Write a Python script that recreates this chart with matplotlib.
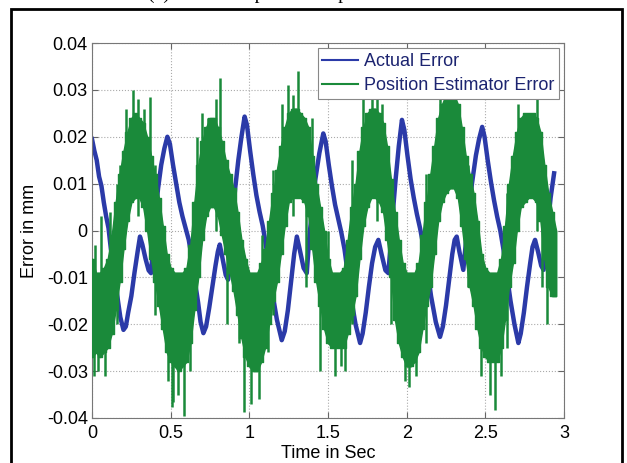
import numpy as np
import matplotlib.pyplot as plt
from matplotlib.patches import Rectangle

plt.rcParams['font.family'] = ['Liberation Sans', 'DejaVu Sans']

time_ticks = [0, 0.5, 1, 1.5, 2, 2.5, 3]
time_tick_labels = ['0', '0.5', '1', '1.5', '2', '2.5', '3']
err_ticks = [-0.04, -0.03, -0.02, -0.01, 0, 0.01, 0.02, 0.03, 0.04]
err_tick_labels = ['-0.04', '-0.03', '-0.02', '-0.01', '0',
                   '0.01', '0.02', '0.03', '0.04']

# actual error (time in s, error in mm)
actual_t = [
    0.000, 0.015, 0.030, 0.045, 0.060, 0.075, 0.090, 0.105, 0.120, 0.135,
    0.150, 0.165, 0.180, 0.200, 0.215, 0.230, 0.250, 0.270, 0.290, 0.305,
    0.320, 0.340, 0.360, 0.375, 0.390, 0.405, 0.420, 0.440, 0.460, 0.479,
    0.495, 0.515, 0.535, 0.555, 0.575, 0.595, 0.615, 0.635, 0.655, 0.675,
    0.690, 0.708, 0.725, 0.745, 0.765, 0.785, 0.800, 0.812, 0.830, 0.850,
    0.865, 0.880, 0.895, 0.910, 0.930, 0.950, 0.970, 0.985, 1.005, 1.025,
    1.045, 1.065, 1.085, 1.105, 1.125, 1.150, 1.175, 1.206, 1.225, 1.245,
    1.265, 1.285, 1.302, 1.320, 1.345, 1.365, 1.380, 1.400, 1.420, 1.445,
    1.470, 1.485, 1.505, 1.525, 1.545, 1.565, 1.585, 1.605, 1.625, 1.650,
    1.675, 1.704, 1.720, 1.740, 1.760, 1.780, 1.800, 1.820, 1.840, 1.865,
    1.884, 1.900, 1.915, 1.930, 1.950, 1.970, 1.985, 2.005, 2.025, 2.045,
    2.065, 2.085, 2.105, 2.130, 2.155, 2.185, 2.212, 2.230, 2.250, 2.270,
    2.290, 2.305, 2.318, 2.335, 2.360, 2.375, 2.395, 2.415, 2.440, 2.460,
    2.480, 2.495, 2.515, 2.535, 2.555, 2.575, 2.595, 2.615, 2.635, 2.660,
    2.685, 2.710, 2.725, 2.745, 2.765, 2.785, 2.800, 2.816, 2.835, 2.855,
    2.870, 2.885, 2.900, 2.915, 2.937]
actual_err = [
    0.0195, 0.0170, 0.0150, 0.0115, 0.0095, 0.0060, 0.0030, 0.0005, -0.0040, -0.0070,
    -0.0110, -0.0150, -0.0185, -0.0212, -0.0205, -0.0175, -0.0140, -0.0090, -0.0045, -0.0013,
    -0.0030, -0.0060, -0.0085, -0.0091, -0.0030, 0.0040, 0.0090, 0.0140, 0.0175, 0.0200,
    0.0185, 0.0140, 0.0100, 0.0060, 0.0030, 0.0005, -0.0020, -0.0060, -0.0110, -0.0155,
    -0.0195, -0.0219, -0.0205, -0.0165, -0.0120, -0.0075, -0.0045, -0.0030, -0.0060, -0.0095,
    -0.0105, -0.0040, 0.0030, 0.0090, 0.0150, 0.0200, 0.0243, 0.0225, 0.0170, 0.0120,
    0.0075, 0.0040, 0.0010, -0.0030, -0.0080, -0.0140, -0.0190, -0.0234, -0.0215, -0.0170,
    -0.0110, -0.0050, -0.0013, -0.0040, -0.0080, -0.0091, -0.0020, 0.0050, 0.0110, 0.0165,
    0.0207, 0.0190, 0.0140, 0.0095, 0.0055, 0.0025, -0.0005, -0.0040, -0.0090, -0.0150,
    -0.0200, -0.0240, -0.0220, -0.0175, -0.0120, -0.0070, -0.0035, -0.0020, -0.0050, -0.0085,
    -0.0091, -0.0020, 0.0050, 0.0110, 0.0180, 0.0236, 0.0215, 0.0160, 0.0110, 0.0070,
    0.0035, 0.0005, -0.0030, -0.0080, -0.0140, -0.0195, -0.0227, -0.0205, -0.0160, -0.0105,
    -0.0050, -0.0020, -0.0013, -0.0045, -0.0084, -0.0030, 0.0040, 0.0100, 0.0160, 0.0195,
    0.0221, 0.0200, 0.0150, 0.0105, 0.0065, 0.0030, 0.0000, -0.0040, -0.0090, -0.0150,
    -0.0200, -0.0240, -0.0220, -0.0175, -0.0120, -0.0070, -0.0035, -0.0020, -0.0045, -0.0075,
    -0.0084, -0.0030, 0.0020, 0.0070, 0.0122]

# position estimator error: top and bottom of the noise band every 0.025 s
est_t = np.arange(119) * 0.025
est_upper = [
    -0.006, -0.009, -0.009, -0.008, -0.006, -0.001, 0.006, 0.012, 0.017, 0.021,
    0.024, 0.025, 0.024, 0.023, 0.020, 0.016, 0.012, 0.007, 0.001, -0.005,
    -0.008, -0.009, -0.009, -0.009, -0.008, -0.003, 0.006, 0.014, 0.019, 0.022,
    0.024, 0.024, 0.022, 0.019, 0.015, 0.012, 0.009, 0.004, -0.002, -0.006,
    -0.009, -0.009, -0.009, -0.007, -0.004, 0.002, 0.008, 0.013, 0.018, 0.022,
    0.025, 0.026, 0.026, 0.025, 0.024, 0.022, 0.016, 0.010, 0.005, 0.000,
    -0.006, -0.009, -0.009, -0.009, -0.008, -0.002, 0.005, 0.010, 0.017, 0.022,
    0.025, 0.026, 0.026, 0.025, 0.023, 0.018, 0.011, 0.004, -0.002, -0.007,
    -0.009, -0.009, -0.009, -0.007, -0.001, 0.006, 0.012, 0.018, 0.024, 0.027,
    0.029, 0.030, 0.029, 0.027, 0.022, 0.016, 0.012, 0.008, 0.002, -0.005,
    -0.008, -0.009, -0.009, -0.009, -0.006, 0.001, 0.010, 0.016, 0.021, 0.024,
    0.025, 0.025, 0.025, 0.024, 0.021, 0.014, 0.008, 0.004, 0.000]
est_lower = [
    -0.027, -0.026, -0.027, -0.026, -0.025, -0.022, -0.017, -0.011, -0.004, 0.002,
    0.006, 0.007, 0.007, 0.005, 0.000, -0.006, -0.011, -0.016, -0.021, -0.026,
    -0.028, -0.029, -0.030, -0.029, -0.028, -0.024, -0.017, -0.010, -0.002, 0.003,
    0.005, 0.005, 0.003, -0.001, -0.005, -0.009, -0.013, -0.018, -0.023, -0.027,
    -0.029, -0.030, -0.030, -0.028, -0.025, -0.020, -0.015, -0.011, -0.005, 0.001,
    0.006, 0.007, 0.007, 0.007, 0.006, 0.003, -0.004, -0.011, -0.016, -0.021,
    -0.024, -0.025, -0.025, -0.025, -0.025, -0.022, -0.018, -0.014, -0.006, 0.001,
    0.005, 0.007, 0.007, 0.006, 0.004, -0.002, -0.010, -0.019, -0.024, -0.027,
    -0.029, -0.029, -0.028, -0.026, -0.021, -0.016, -0.012, -0.005, 0.002, 0.006,
    0.008, 0.009, 0.009, 0.007, 0.001, -0.006, -0.012, -0.016, -0.021, -0.025,
    -0.027, -0.028, -0.028, -0.028, -0.025, -0.019, -0.012, -0.007, 0.000, 0.005,
    0.006, 0.007, 0.007, 0.006, 0.002, -0.006, -0.012, -0.014, -0.014]

# single-sample spikes of the estimator error (time, bottom, top)
spike_t = [0.010, 0.019, 0.040, 0.060, 0.085, 0.115, 0.160, 0.180, 0.215, 0.263,
           0.290, 0.330, 0.369, 0.400, 0.443, 0.480, 0.506, 0.515, 0.549, 0.585,
           0.620, 0.665, 0.700, 0.739, 0.790, 0.814, 0.860, 0.935, 0.966, 1.010,
           1.063, 1.078, 1.120, 1.150, 1.205, 1.248, 1.280, 1.311, 1.360, 1.398,
           1.449, 1.502, 1.544, 1.580, 1.608, 1.650, 1.724, 1.777, 1.810, 1.841,
           1.900, 1.990, 2.015, 2.060, 2.120, 2.212, 2.254, 2.297, 2.390, 2.470,
           2.530, 2.560, 2.600, 2.640, 2.710, 2.763, 2.805, 2.830, 2.860, 2.890]
spike_lo = [-0.031, -0.012, -0.030, -0.012, -0.031, -0.010, -0.020, -0.008, 0.010, 0.015,
            0.003, 0.012, 0.005, -0.018, -0.010, -0.032, -0.0376, -0.0366, -0.035, -0.0395,
            -0.030, 0.000, 0.005, 0.012, 0.000, 0.010, -0.020, -0.024, -0.0387, -0.037,
            -0.036, -0.012, -0.026, -0.018, 0.010, 0.015, 0.003, 0.015, -0.012, 0.005,
            -0.030, -0.015, -0.031, -0.029, -0.030, -0.020, 0.012, 0.015, 0.002, 0.010,
            -0.020, -0.032, -0.0334, -0.031, -0.024, 0.015, 0.015, 0.015, -0.012, -0.031,
            -0.035, -0.0383, -0.031, -0.025, 0.010, 0.012, 0.010, 0.000, -0.012, -0.020]
spike_hi = [-0.020, -0.003, -0.020, 0.003, -0.020, 0.004, 0.010, 0.014, 0.026, 0.030,
            0.028, 0.026, 0.0285, 0.014, 0.001, -0.020, -0.020, -0.020, -0.020, -0.020,
            -0.005, 0.020, 0.025, 0.024, 0.028, 0.0325, 0.004, -0.010, -0.015, -0.020,
            -0.020, -0.001, -0.010, 0.013, 0.027, 0.031, 0.029, 0.034, 0.012, 0.024,
            -0.015, 0.000, -0.020, -0.020, -0.015, 0.015, 0.028, 0.028, 0.029, 0.027,
            0.006, -0.020, -0.020, -0.020, 0.012, 0.028, 0.031, 0.030, 0.014, -0.010,
            -0.020, -0.020, -0.020, 0.008, 0.027, 0.0246, 0.024, 0.028, 0.014, -0.010]

blue = '#2b3aa8'
green = '#1a8a3a'

fig = plt.figure(figsize=(6.27, 4.63), dpi=100)
ax = fig.add_axes([92 / 627, 1 - 418 / 463, 472 / 627, 375 / 463])

ax.plot(actual_t, actual_err, color=blue, lw=3.2, label='Actual Error', zorder=2)

# the noise band: smooth fill for continuity, stepped fill for the ragged edge
ax.fill_between(est_t, est_lower, est_upper, color=green, lw=1.0, zorder=3)
ax.fill_between(est_t, est_lower, est_upper, step='mid', color=green,
                lw=1.0, zorder=3)
ax.vlines(spike_t, spike_lo, spike_hi, color=green, lw=1.8, zorder=3)
ax.plot([], [], color=green, lw=1.5, label='Position Estimator Error')

ax.set_xlim(0, 3)
ax.set_ylim(-0.04, 0.04)
ax.set_xticks(time_ticks)
ax.set_xticklabels(time_tick_labels)
ax.set_yticks(err_ticks)
ax.set_yticklabels(err_tick_labels)
ax.tick_params(direction='in', top=True, right=True, length=4,
               color='#666666', labelsize=13)
ax.tick_params(axis='x', pad=5)
ax.tick_params(axis='y', pad=3)
ax.grid(True, linestyle=':', color='#aaaaaa', lw=0.8)
for s in ax.spines.values():
    s.set_color('#777777')
    s.set_linewidth(0.8)

ax.set_xlabel('Time in Sec', fontsize=13, labelpad=2)
ax.set_ylabel('Error in mm', fontsize=13, labelpad=6)

leg = ax.legend(loc='upper right', fontsize=13, frameon=True, fancybox=False,
                framealpha=1, edgecolor='#888888', borderpad=0.25,
                labelspacing=0.4, handlelength=2.0, handletextpad=0.3,
                borderaxespad=0.3)
leg.get_frame().set_linewidth(0.8)
leg.legend_handles[0].set_linewidth(1.5)
for txt in leg.get_texts():
    txt.set_color('#1c2470')

# caption of the source figure, mostly cut off by the top edge
fig.text(0.5, 1 + 1 / 463, '(c) Error comparison of position estimator',
         family=['Liberation Serif'], fontsize=14, ha='center',
         va='baseline')

fig.patches.append(Rectangle((11 / 627, -0.1), 611 / 627, 1.1 - 9 / 463,
                             transform=fig.transFigure, fill=False,
                             ec='black', lw=2))

fig.savefig('out.png', dpi=100)
